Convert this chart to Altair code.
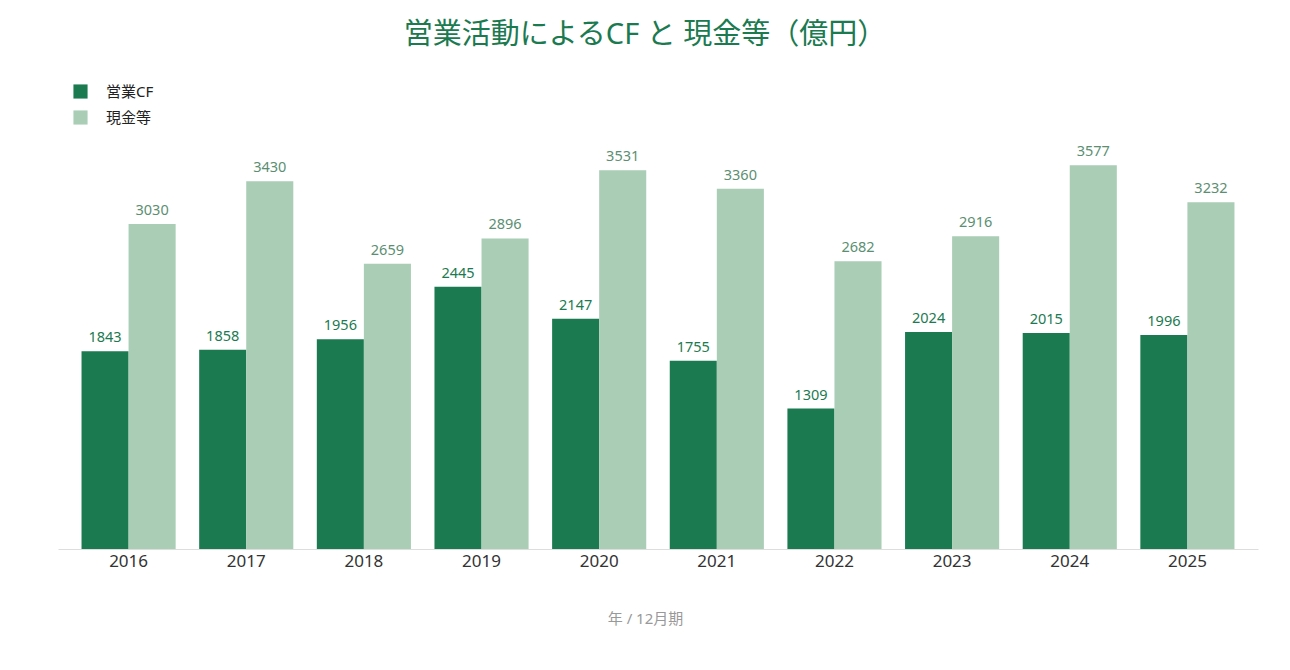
import altair as alt
import pandas as pd

years = ["2016", "2017", "2018", "2019", "2020", "2021", "2022", "2023", "2024", "2025"]
cf_values = [1843, 1858, 1956, 2445, 2147, 1755, 1309, 2024, 2015, 1996]
cash_values = [3030, 3430, 2659, 2896, 3531, 3360, 2682, 2916, 3577, 3232]
series_names = ["営業CF", "現金等"]
colors = ["#1b7a50", "#a9cdb5"]
label_colors = ["#1b7a50", "#5b8f72"]

rows = []
for i, y in enumerate(years):
    rows.append({"year": y, "series": series_names[0], "value": cf_values[i], "lc": label_colors[0]})
    rows.append({"year": y, "series": series_names[1], "value": cash_values[i], "lc": label_colors[1]})
df = pd.DataFrame(rows)

FONT = "'Noto Sans', 'Noto Sans CJK JP'"

x = alt.X("year:N", title="年 / 12月期", sort=years,
          scale=alt.Scale(paddingInner=0.2, paddingOuter=0.2),
          axis=alt.Axis(labelAngle=0, labelFontSize=17, labelColor="#333333", labelFont=FONT,
                        labelPadding=4, ticks=False, domainColor="#dddddd",
                        titleFontSize=15, titleColor="#999999", titleFont=FONT,
                        titleFontWeight="normal", titlePadding=42, titleX=587))
y = alt.Y("value:Q", scale=alt.Scale(domain=[0, 4000]), axis=None)
xo = alt.XOffset("series:N", sort=series_names, scale=alt.Scale(paddingInner=0, paddingOuter=0))

base = alt.Chart(df).encode(x=x, xOffset=xo, y=y)

bars = base.mark_bar().encode(
    color=alt.Color("series:N", sort=series_names,
                    scale=alt.Scale(domain=series_names, range=colors),
                    legend=alt.Legend(title=None, orient="none", legendX=15, legendY=-36,
                                      symbolType="square", symbolSize=200, symbolStrokeWidth=0,
                                      labelFontSize=15, labelColor="#222222", labelFont=FONT,
                                      rowPadding=10, labelOffset=18))
)

labels = base.mark_text(dy=-13, fontSize=14.5, font=FONT).encode(
    text=alt.Text("value:Q", format="d"),
    color=alt.Color("lc:N", scale=None),
)

chart = (bars + labels).properties(
    width=1200, height=429,
    background="white",
    title=alt.TitleParams("営業活動によるCF と 現金等（億円）", fontSize=29, color="#1b7a50",
                          font=FONT, fontWeight="normal", anchor="middle", offset=34, dx=-13),
    autosize=alt.AutoSizeParams(type="none"),
    padding={"left": 58, "top": 120, "right": 32, "bottom": 121},
).configure_view(strokeWidth=0, stroke=None)

chart.save("out.html", embed_options={"renderer": "svg", "actions": False})
